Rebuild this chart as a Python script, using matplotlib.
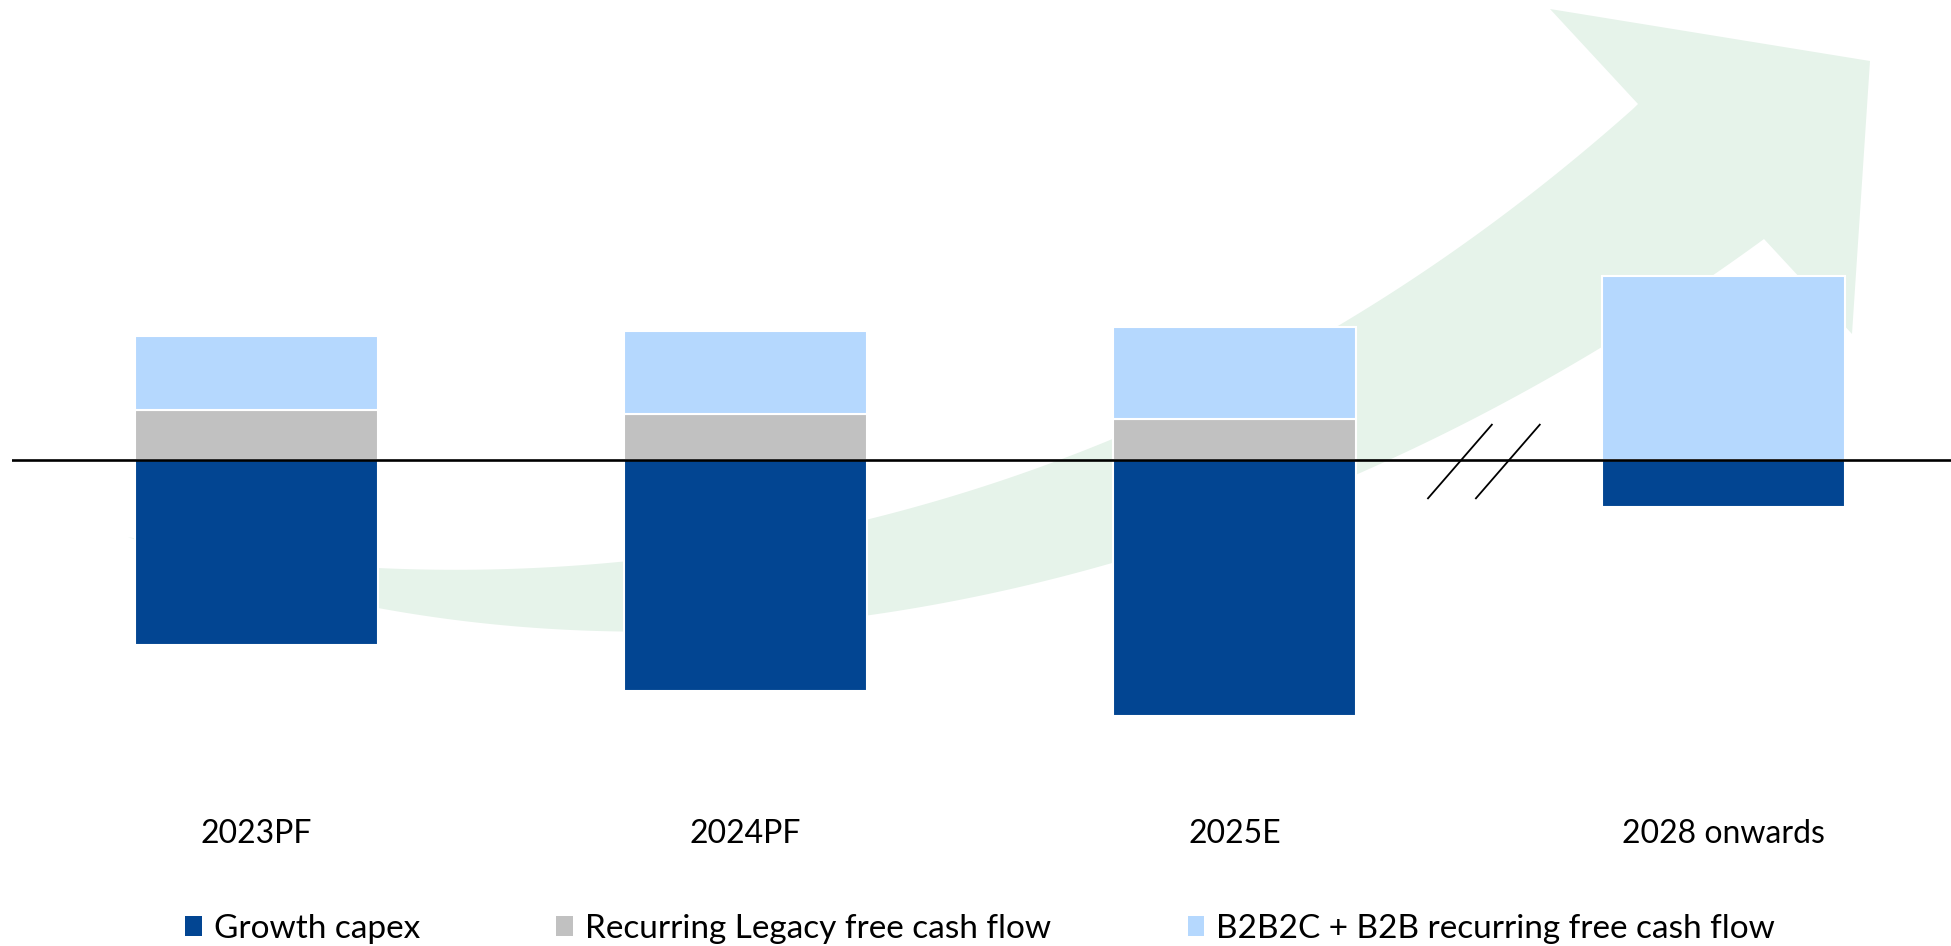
import numpy as np
import matplotlib
matplotlib.use("Agg")
import matplotlib.pyplot as plt
from matplotlib.patches import Patch, Polygon

# --- data (arbitrary units) ---
categories = ["2023PF", "2024PF", "2025E", "2028 onwards"]
growth_capex = [-92.5, -115.5, -128, -23.5]
legacy_fcf = [25, 23, 20.5, 0]
b2b_fcf = [37, 41.5, 46, 92]
series_names = ["Growth capex", "Recurring Legacy free cash flow",
                "B2B2C + B2B recurring free cash flow"]

COLORS = ["#024592", "#C1C1C1", "#B5D8FE"]
ARROW_GREEN = "#E6F3EA"
FONT = "Lato"

W, H = 1951, 946

# decorative background arrow, figure pixels (y measured from the top)
ARROW_LOWER = [(128, 537), (380, 608), (620, 632), (868, 615), (1110, 564),
               (1357, 473), (1450, 432), (1600, 348), (1764, 239)]
ARROW_UPPER = [(128, 537), (380, 568), (620, 562), (868, 519), (1110, 441),
               (1340, 323), (1500, 219), (1638, 104)]
ARROW_HEAD = [(1852, 334), (1870, 61), (1550, 9)]


def arrow_outline():
    lx, ly = np.array(ARROW_LOWER, dtype=float).T
    ux, uy = np.array(ARROW_UPPER, dtype=float).T
    pl = np.polyfit(lx, ly, 4)
    pu = np.polyfit(ux, uy, 4)
    xl = np.linspace(lx[0], lx[-1], 300)
    xu = np.linspace(ux[-1], ux[0], 300)
    lower = np.column_stack([xl, np.polyval(pl, xl)])
    upper = np.column_stack([xu, np.polyval(pu, xu)])
    lower[0], lower[-1] = ARROW_LOWER[0], ARROW_LOWER[-1]
    upper[0], upper[-1] = ARROW_UPPER[-1], ARROW_UPPER[0]
    pts = np.vstack([lower, np.array(ARROW_HEAD, dtype=float), upper])
    return np.column_stack([pts[:, 0] / W, 1 - pts[:, 1] / H])


def main():
    plt.rcParams["font.family"] = [FONT, "DejaVu Sans"]
    fig = plt.figure(figsize=(W / 100, H / 100), dpi=100)
    ax = fig.add_axes([12 / W, 0, 1 - 12 / W, 1])
    ax.set_xlim(-0.5, -0.5 + (W - 12) / 489)
    ax.set_ylim(-243, 230)
    ax.axis("off")

    ax.add_patch(Polygon(arrow_outline(), closed=True, transform=fig.transFigure,
                         facecolor=ARROW_GREEN, edgecolor="none", zorder=0.5,
                         clip_on=False))

    x = np.arange(len(categories))
    kw = dict(width=0.495, edgecolor="white", linewidth=1.5, zorder=2)
    ax.bar(x, growth_capex, color=COLORS[0], **kw)
    ax.bar(x, legacy_fcf, color=COLORS[1], **kw)
    ax.bar(x, b2b_fcf, bottom=legacy_fcf, color=COLORS[2], **kw)

    ax.axhline(0, color="black", lw=1.9, zorder=3)

    # axis break between 2025E and 2028 onwards
    brk = 2.51
    for c in (brk - 0.049, brk + 0.049):
        ax.plot([c - 0.0665, c + 0.0665], [-19.5, 18], color="black",
                lw=1.3, zorder=3, solid_capstyle="butt")

    for i, c in enumerate(categories):
        ax.text(i, -187, c, ha="center", va="center", fontsize=23)

    handles = [Patch(facecolor=col, edgecolor="none") for col in COLORS]
    fig.legend(handles, series_names, loc="center", bbox_to_anchor=(0.5023, 0.018),
               ncol=3, frameon=False, fontsize=24, handlelength=0.5,
               handleheight=0.55, handletextpad=0.35, columnspacing=4.1)

    fig.savefig("out.png", dpi=100)
    plt.close(fig)


if __name__ == "__main__":
    main()
